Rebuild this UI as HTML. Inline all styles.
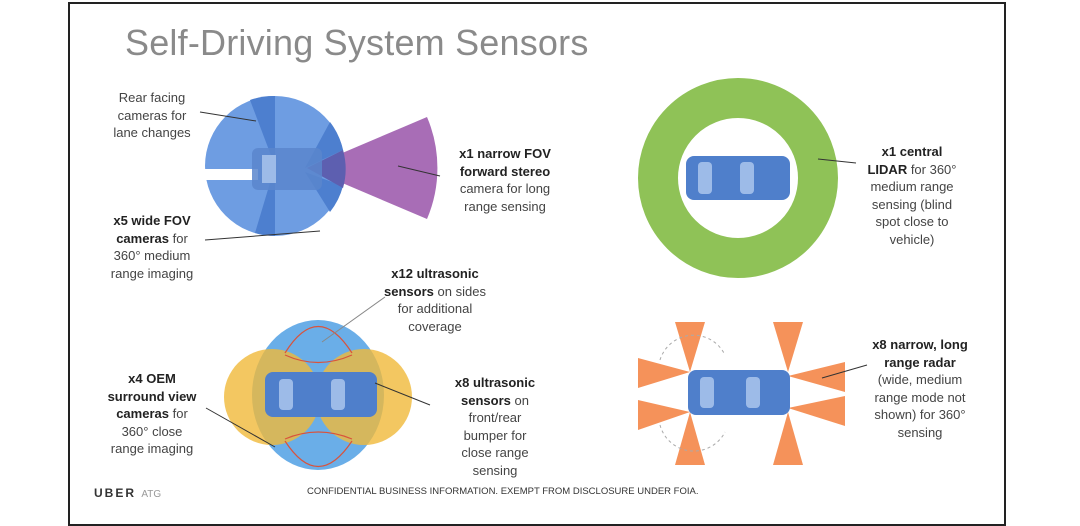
<!DOCTYPE html>
<html><head><meta charset="utf-8"><style>
body{margin:0;background:#fff;width:1080px;height:508px;overflow:hidden;font-family:"Liberation Sans",sans-serif}
.t{position:absolute;font-size:13px;line-height:17.5px;color:#444;text-align:center}
b{color:#222}
</style></head><body>
<div style="position:absolute;left:68px;top:2px;width:934px;height:520px;border:2px solid #222"></div>
<div style="position:absolute;left:125px;top:22px;font-size:36px;color:#8a8a8a;letter-spacing:0.2px">Self-Driving System Sensors</div>
<svg width="1080" height="508" style="position:absolute;left:0;top:0">
<!-- top-left camera -->
<circle cx="275" cy="166" r="70" fill="#6e9de2"/>
<path d="M275 166 L265 97 A70 70 0 0 1 275 96Z" fill="#4d7fcf"/>
<path d="M275 166 L250 100 A70 70 0 0 1 275 96Z" fill="#4d7fcf"/>
<path d="M275 166 L255 233 A70 70 0 0 0 275 236Z" fill="#4d7fcf"/>
<path d="M305 168 L330 122 A70 70 0 0 1 343 150Z" fill="#4d7fcf"/>
<path d="M305 172 L343 186 A70 70 0 0 1 330 212Z" fill="#4d7fcf"/>
<rect x="200" y="169" width="58" height="11" fill="#fff"/>
<path d="M307 168 L427 117 A130 130 0 0 1 427 219Z" fill="#a86db6"/>
<path d="M307 168 L343 150 A70 70 0 0 1 343 188Z" fill="#5d5fb0"/>
<rect x="252" y="148" width="70" height="42" rx="6" fill="#5a86cc" opacity="0.85"/>
<rect x="262" y="155" width="14" height="28" fill="#9dbbe8"/>
<g stroke="#333" stroke-width="1"><line x1="200" y1="112" x2="256" y2="121"/><line x1="205" y1="240" x2="320" y2="231"/><line x1="440" y1="176" x2="398" y2="166"/></g>
<!-- LIDAR -->
<circle cx="738" cy="178" r="80" fill="none" stroke="#8fc257" stroke-width="40"/>
<rect x="686" y="156" width="104" height="44" rx="8" fill="#4f7fcb"/>
<rect x="698" y="162" width="14" height="32" rx="4" fill="#9dbbe8"/><rect x="740" y="162" width="14" height="32" rx="4" fill="#9dbbe8"/>
<line x1="856" y1="163" x2="818" y2="159" stroke="#333"/>
<!-- surround -->
<ellipse cx="318" cy="395" rx="66" ry="75" fill="#6aaee8"/>
<circle cx="272" cy="397" r="48" fill="#f0b93a" opacity="0.8"/>
<circle cx="364" cy="397" r="48" fill="#f0b93a" opacity="0.8"/>
<path d="M285 353 Q318 300 352 353 M285 441 Q318 492 352 441" fill="none" stroke="#d9533c" stroke-width="1.2"/>
<path d="M285 355 Q318 370 352 355 M285 439 Q318 425 352 439" fill="none" stroke="#d9533c" stroke-width="1.2"/>
<rect x="265" y="372" width="112" height="45" rx="8" fill="#4f7fcb"/>
<rect x="279" y="379" width="14" height="31" rx="4" fill="#9dbbe8"/><rect x="331" y="379" width="14" height="31" rx="4" fill="#9dbbe8"/>
<g stroke="#333"><line x1="206" y1="408" x2="275" y2="447"/><line x1="430" y1="405" x2="375" y2="383"/><line x1="385" y1="297" x2="322" y2="342" stroke="#888"/></g>
<!-- radar -->
<g fill="#f5925a">
<path d="M690 372 L675 322 L705 322Z"/><path d="M690 372 L638 358 L638 388Z"/>
<path d="M690 412 L638 400 L638 430Z"/><path d="M690 412 L675 465 L705 465Z"/>
<path d="M788 372 L773 322 L803 322Z"/><path d="M788 376 L845 362 L845 392Z"/>
<path d="M788 408 L845 396 L845 426Z"/><path d="M788 412 L773 465 L803 465Z"/>
</g>
<path d="M660 360 A35 35 0 0 1 725 355 M660 425 A35 35 0 0 0 725 432" fill="none" stroke="#aaa" stroke-dasharray="3,3"/>
<rect x="688" y="370" width="102" height="45" rx="8" fill="#4f7fcb"/>
<rect x="700" y="377" width="14" height="31" rx="4" fill="#9dbbe8"/><rect x="746" y="377" width="14" height="31" rx="4" fill="#9dbbe8"/>
<line x1="867" y1="365" x2="822" y2="378" stroke="#333"/>
</svg>
<div class="t" style="left:92px;top:89px;width:120px">Rear facing<br>cameras for<br>lane changes</div>
<div class="t" style="left:92px;top:212px;width:120px"><b>x5 wide FOV<br>cameras</b> for<br>360° medium<br>range imaging</div>
<div class="t" style="left:440px;top:145px;width:130px"><b>x1 narrow FOV<br>forward stereo</b><br>camera for long<br>range sensing</div>
<div class="t" style="left:862px;top:143px;width:100px"><b>x1 central<br>LIDAR</b> for 360°<br>medium range<br>sensing (blind<br>spot close to<br>vehicle)</div>
<div class="t" style="left:370px;top:265px;width:130px"><b>x12 ultrasonic<br>sensors</b> on sides<br>for additional<br>coverage</div>
<div class="t" style="left:92px;top:370px;width:120px"><b>x4 OEM<br>surround view<br>cameras</b> for<br>360° close<br>range imaging</div>
<div class="t" style="left:440px;top:374px;width:110px"><b>x8 ultrasonic<br>sensors</b> on<br>front/rear<br>bumper for<br>close range<br>sensing</div>
<div class="t" style="left:860px;top:336px;width:120px"><b>x8 narrow, long<br>range radar</b><br>(wide, medium<br>range mode not<br>shown) for 360°<br>sensing</div>
<div style="position:absolute;left:94px;top:486px;font-size:12px;font-weight:bold;letter-spacing:2px;color:#333">UBER <span style="font-weight:normal;color:#999;font-size:10px;letter-spacing:0">ATG</span></div>
<div style="position:absolute;left:307px;top:486px;font-size:9.5px;color:#333">CONFIDENTIAL BUSINESS INFORMATION. EXEMPT FROM DISCLOSURE UNDER FOIA.</div>
</body></html>
